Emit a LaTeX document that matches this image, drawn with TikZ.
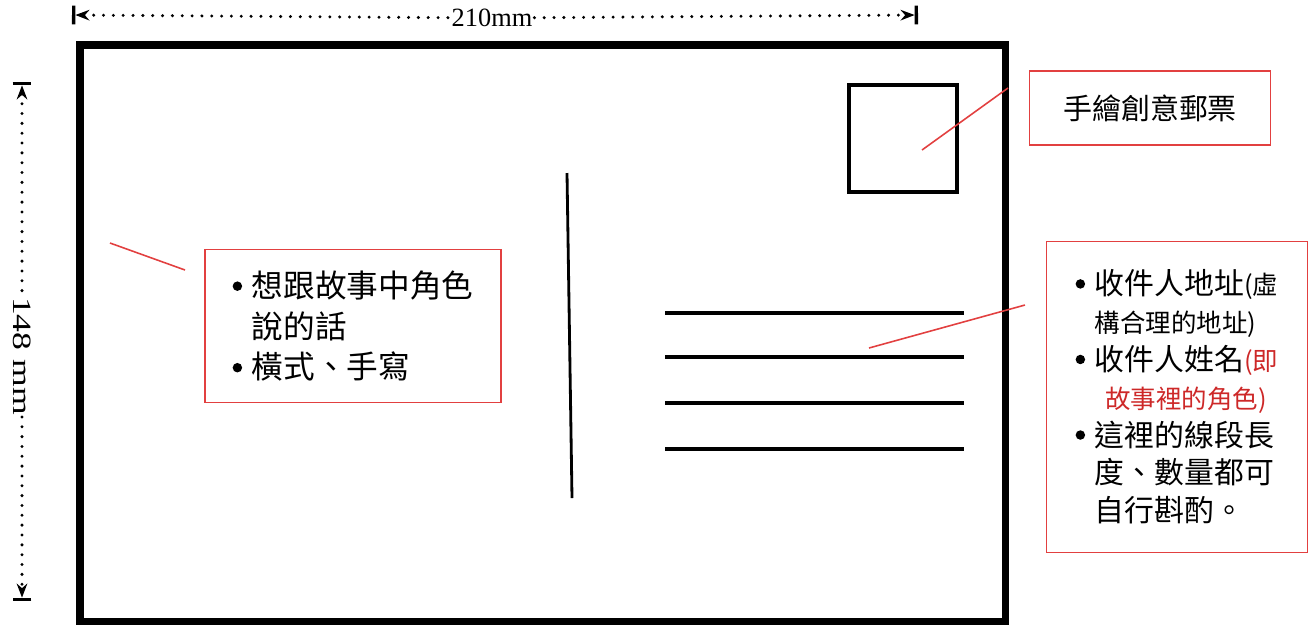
\documentclass[tikz,border=0pt]{standalone}
\usepackage{fontspec}
\setmainfont{Liberation Serif}
\newfontfamily\cjk{Noto Sans CJK TC}
\usetikzlibrary{arrows.meta}
\definecolor{notered}{RGB}{226,64,64}
\definecolor{textred}{RGB}{205,40,40}
\newcommand\bul{\makebox[11pt][l]{\tikz[baseline=-6.3pt]\fill (0,0) circle (2.7pt);}}
\newcommand\hang{\hspace*{11pt}}
\newcommand\sm{\fontsize{14.5}{21.5}\selectfont}

\begin{document}
\begin{tikzpicture}
[x=0.02cm,y=-0.02cm,>={Stealth[length=8pt,width=6pt]},
dim/.style = {line width=1.9pt, line cap=round, dash pattern=on 0pt off 5.6pt},
dimtext/.style = {font=\fontsize{15}{15}\selectfont, inner sep=1pt},
notebox/.style = {draw=notered, line width=0.8pt, inner sep=0pt, align=left},
pointer/.style = {draw=notered, line width=0.9pt},
addrline/.style = {line width=2pt},]

\useasboundingbox (0,0) rectangle (1314,627);
\def\cardw{4pt}
\draw[line width=\cardw] (80,45) rectangle (1005,621);
\draw[line width=2.6pt] (849,85) rectangle (957,192);
\draw[line width=1.6pt] (567,173) -- (572,498);
\foreach \y in {313,357,403,449}
  \draw[addrline] (665,\y) -- (964,\y);

\node (wlab) at (492,18) [dimtext] {210mm};
\coordinate (wL) at (72,15);
\coordinate (wR) at (918,15);
\draw[dim,|<-] (wL) -- (wlab);
\draw[dim,->|] (wlab) -- (wR);

\node (hlab) at (22,356) [dimtext,rotate=-90] {\scalebox{1.35}[1]{148 mm}};
\coordinate (hT) at (22,82);
\coordinate (hB) at (22,601);
\draw[dim,|<-] (hT) -- (hlab);
\draw[dim,->|] (hlab) -- (hB);

\node (stamplab) at (1150,108) [notebox, minimum width=4.82cm, minimum height=1.48cm, font=\cjk\fontsize{16.5}{20}\selectfont] {手繪創意郵票};
\node (talkbox) at (353,326) [notebox, minimum width=5.92cm, minimum height=3.06cm, font=\cjk\fontsize{18}{23.2}\selectfont]
{\bul 想跟故事中角色\\ \hang 說的話\\ \bul 橫式、手寫};
\node (addrbox) at (1177,397) [notebox, minimum width=5.22cm, minimum height=6.22cm, font=\cjk\fontsize{17}{21.5}\selectfont]
{\bul 收件人地址{\sm(虛}\\ \hang{\sm 構合理的地址)}\\ \bul 收件人姓名{\sm\color{textred}(即}\\ \hang\hspace*{6pt}{\sm\color{textred}故事裡的角色)}\\ \bul 這裡的線段長\\ \hang 度、數量都可\\ \hang 自行斟酌。};

\coordinate (sA) at (1008,88);
\coordinate (sB) at (922,150);
\draw[pointer] (sA) -- (sB);
\coordinate (tA) at (110,243);
\coordinate (tB) at (185,270);
\draw[pointer] (tA) -- (tB);
\coordinate (aA) at (1025,305);
\coordinate (aB) at (869,348);
\draw[pointer] (aA) -- (aB);
\end{tikzpicture}
\end{document}
